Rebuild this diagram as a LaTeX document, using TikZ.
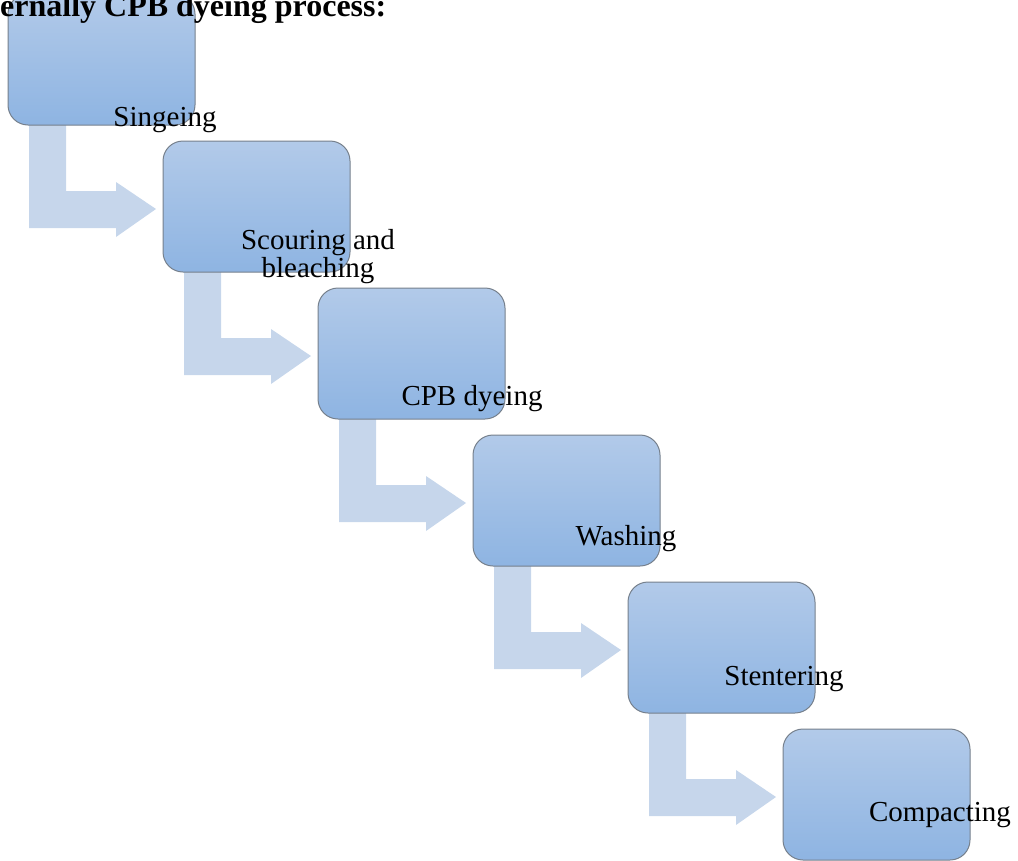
\documentclass[tikz,border=0pt]{standalone}
\usepackage{fontspec}
\setmainfont{Liberation Serif}
\usetikzlibrary{calc}
\definecolor{boxtop}{RGB}{178,202,233}
\definecolor{boxbot}{RGB}{142,180,226}
\definecolor{boxline}{RGB}{118,128,140}
\definecolor{arrowfill}{RGB}{198,214,235}
\tikzset{
  stepbox/.style={draw=boxline, line width=1pt, rounded corners=20pt,
    top color=boxtop, bottom color=boxbot,
    minimum width=187pt, minimum height=131pt, inner sep=0pt},
  steplabel/.style={font=\fontsize{29}{28}\selectfont, inner sep=0pt, anchor=base, align=center},
  flowarrow/.style={fill=arrowfill, draw=none},
}
\begin{document}
\begin{tikzpicture}[x=1pt,y=-1pt]
\useasboundingbox (0,0) rectangle (1018,860);

% process steps, each one 155pt right and 147pt down of the previous
\foreach \i in {0,...,5}{
  \coordinate (c\i) at ({101.5+155*\i},{59.5+147*\i});
}
% bent arrows go underneath the boxes
\foreach \i in {0,...,4}{
  \path (c\i) ++(-93.5,65.5) coordinate (sw\i);
  \fill[flowarrow] ($(sw\i)+(21,-2)$) -- ++(0,105) -- ++(87,0) -- ++(0,9)
    -- ++(40,-28) -- ++(-40,-27) -- ++(0,9) -- ++(-50,0) -- ++(0,-68) -- cycle;
}
\foreach \i in {0,...,5}{
  \node[stepbox] (b\i) at (c\i) {};
}

% step labels
\node[steplabel] (l0) at (165,126) {Singeing};
\node[steplabel] (l1) at (318,277) {Scouring and\\bleaching};
\node[steplabel] (l2) at (472,405) {CPB dyeing};
\node[steplabel] (l3) at (626,545) {Washing};
\node[steplabel] (l4) at (784,685) {Stentering};
\node[steplabel] (l5) at (940,821) {Compacting};

% heading
\node[font=\fontsize{32}{36}\selectfont\bfseries, inner sep=0pt, anchor=base west] (title) at (0,16) {ernally CPB dyeing process:};
\end{tikzpicture}
\end{document}
